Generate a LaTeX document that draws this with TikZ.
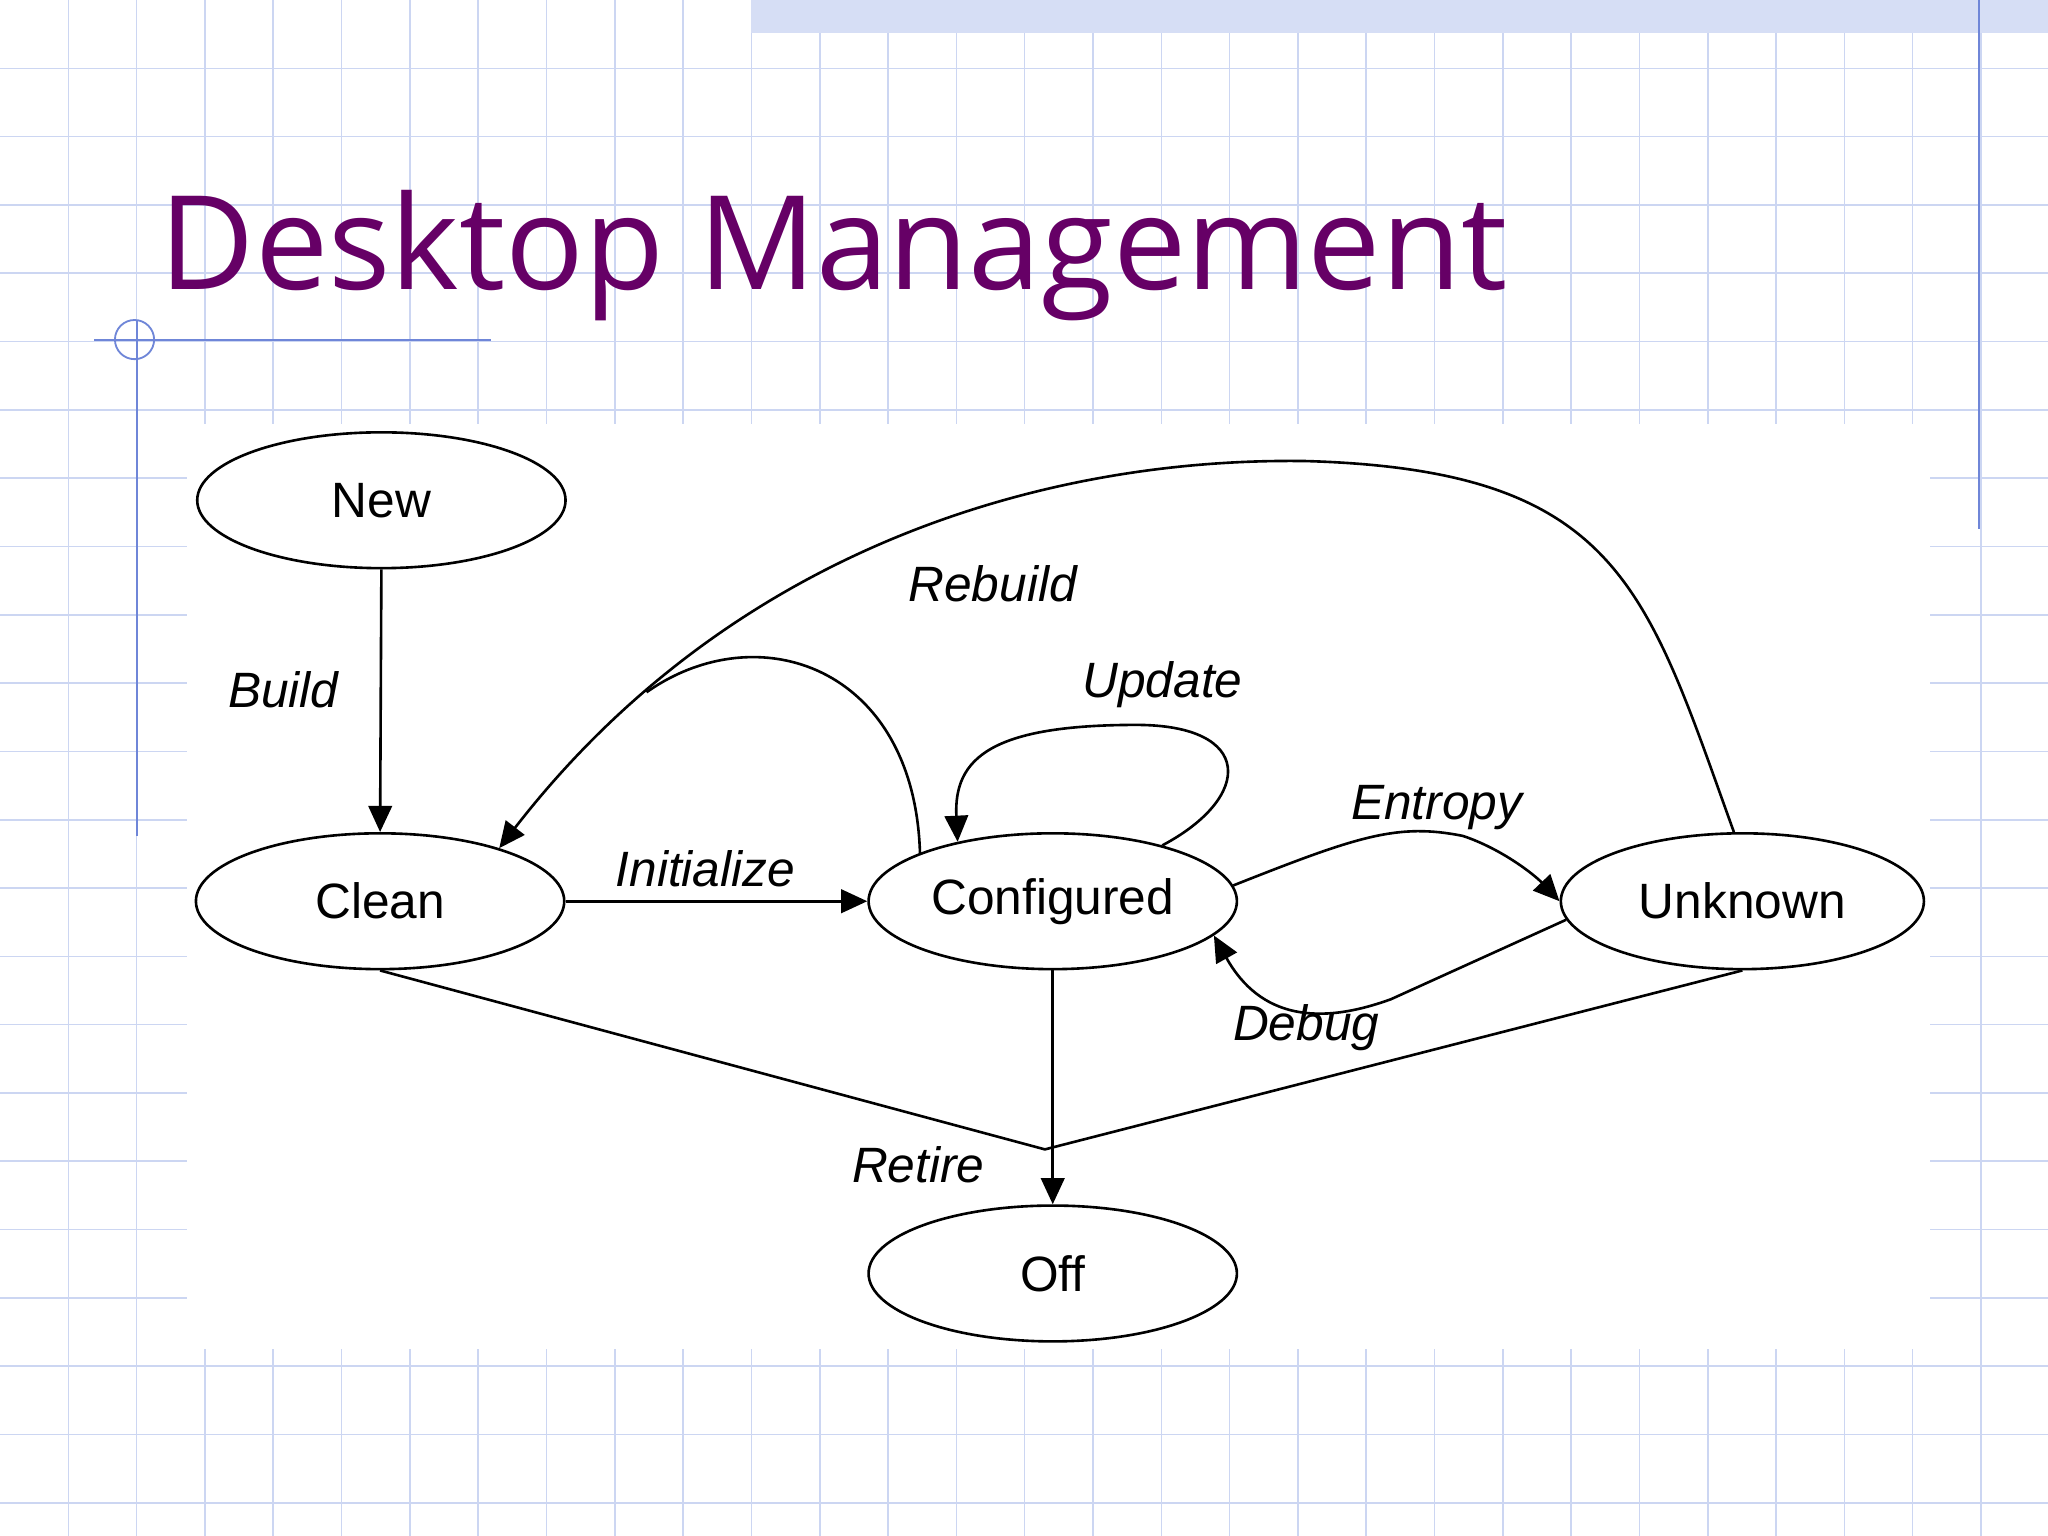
\documentclass[tikz,border=0pt]{standalone}
\usepackage{fontspec}
\setmainfont{Liberation Sans}
\newfontfamily\titlefont{Open Sans}
\usetikzlibrary{shapes.geometric,arrows.meta}
\definecolor{gridc}{HTML}{CCD6F2}
\definecolor{linec}{HTML}{6F86D8}
\definecolor{titlec}{HTML}{660066}
\tikzset{
 st/.style={ellipse,draw,line width=1pt,minimum width=141pt,minimum height=52pt,inner sep=0pt,font=\fontsize{19}{19}\selectfont,fill=white},
 lbl/.style={font=\itshape\fontsize{19}{19}\selectfont},
 edge/.style={line width=1pt,-{Triangle[length=10pt,width=9pt]}},
 plain/.style={line width=1pt}
}
\begin{document}
\begin{tikzpicture}[x=0.5pt,y=-0.5pt]
\useasboundingbox (0,0) rectangle (1568,1176);
\fill[white] (0,0) rectangle (1568,1176);
\foreach \i in {1,...,30} {\draw[gridc,line width=0.6pt] (\i*52.3,0) -- (\i*52.3,1176);}
\foreach \i in {1,...,22} {\draw[gridc,line width=0.6pt] (0,\i*52.3) -- (1568,\i*52.3);}
\fill[white] (143,325) rectangle (1478,1033);
\fill[gridc!80] (575,0) rectangle (1568,25);
\draw[linec,line width=0.7pt] (1515,0) -- (1515,405);
\draw[linec,line width=0.7pt] (105,245) -- (105,640);
\draw[linec,line width=0.7pt] (72,260) -- (376,260);
\draw[linec,line width=0.7pt] (103,260) circle (7.5pt);
\node[anchor=base west,text=titlec,font=\titlefont\fontsize{50}{50}\selectfont,inner sep=0] (title) at (122,222) {Desktop Management};

\node[st] (new) at (292,383) {New};
\node[st] (clean) at (291,690) {Clean};
\node[st] (conf) at (806,690) {Configured};
\node[st,minimum width=139pt] (unk) at (1334,690) {Unknown};
\node[st] (off) at (806,975) {Off};

\draw[edge] (new.south) -- (clean.north);
\node[lbl] (lbuild) at (217,528) {Build};
\draw[edge] (clean.east) -- (conf.west);
\node[lbl] (linit) at (540,665) {Initialize};
\coordinate (merge) at (495,530);
\draw[edge] (unk.97) .. controls (1260,450) and (1240,360) .. (1000,353) .. controls (800,350) and (560,420) .. (clean.24);
\draw[plain] (conf.160) .. controls (700,510) and (580,470) .. (merge);
\node[lbl] (lreb) at (760,447) {Rebuild};
\draw[edge] (conf.27) .. controls (960,610) and (960,555) .. (870,555) .. controls (760,555) and (730,580) .. (conf.148);
\node[lbl] (lupd) at (890,524) {Update};
\draw[edge] (conf.5) .. controls (1040,640) and (1070,630) .. (1120,640) .. controls (1150,650) and (1175,670) .. (unk.west);
\node[lbl] (lent) at (1100,618) {Entropy};
\draw[edge] (unk.186) -- (1065,765) .. controls (1010,785) and (965,780) .. (conf.-12);
\node[lbl] (ldeb) at (1000,787) {Debug};
\coordinate (ret) at (800,880);
\draw[plain] (clean.south) -- (ret) -- (unk.south);
\draw[edge] (conf.south) -- (off.north);
\node[lbl] (lret) at (703,892) {Retire};
\end{tikzpicture}
\end{document}
